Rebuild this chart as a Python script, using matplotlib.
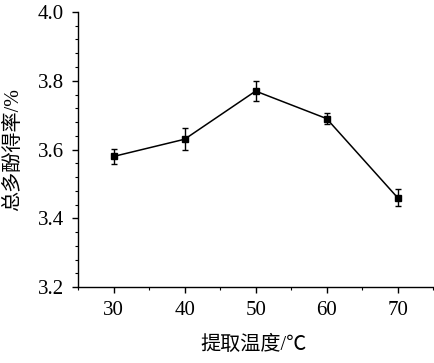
import numpy as np
import matplotlib.pyplot as plt
from matplotlib.ticker import MultipleLocator

# data
temps = [30, 40, 50, 60, 70]
yields = [3.58, 3.63, 3.77, 3.69, 3.46]
errors = [0.022, 0.032, 0.028, 0.016, 0.025]

x_ticks = [30, 40, 50, 60, 70]
y_ticks = [3.2, 3.4, 3.6, 3.8, 4.0]

num_font = ['Liberation Serif', 'DejaVu Serif']
cjk_font = ['Liberation Serif', 'Noto Sans CJK SC', 'DejaVu Sans']

fig = plt.figure(figsize=(4.34, 3.63), dpi=100)
ax = fig.add_axes([0.18, 0.209, 0.818, 0.758])

ax.errorbar(temps, yields, yerr=errors, color='black', linewidth=1.1,
            marker='s', markersize=4.5, capsize=2.2, elinewidth=1.0,
            capthick=1.0)

ax.set_xlim(25, 75)
ax.set_ylim(3.2, 4.0)
ax.set_xticks(x_ticks)
ax.set_yticks(y_ticks)
ax.xaxis.set_minor_locator(MultipleLocator(5))
ax.yaxis.set_minor_locator(MultipleLocator(0.04))
ax.set_yticklabels([f"{v:.1f}" for v in y_ticks])

for side in ['top', 'right']:
    ax.spines[side].set_visible(False)
for side in ['left', 'bottom']:
    ax.spines[side].set_linewidth(1.0)

ax.tick_params(which='major', direction='out', length=4, width=1.0,
               labelsize=15, pad=6)
ax.tick_params(which='minor', direction='out', length=2.5, width=0.8)
for lab in ax.get_xticklabels() + ax.get_yticklabels():
    lab.set_family(num_font)

ax.set_xlabel('提取温度/℃', fontsize=14.5, family=cjk_font)
ax.set_ylabel('总多酚得率/%', fontsize=14.5, family=cjk_font)
ax.xaxis.set_label_coords(0.493, -0.178)
ax.yaxis.set_label_coords(-0.156, 0.5)

fig.savefig('out.png', dpi=100)
